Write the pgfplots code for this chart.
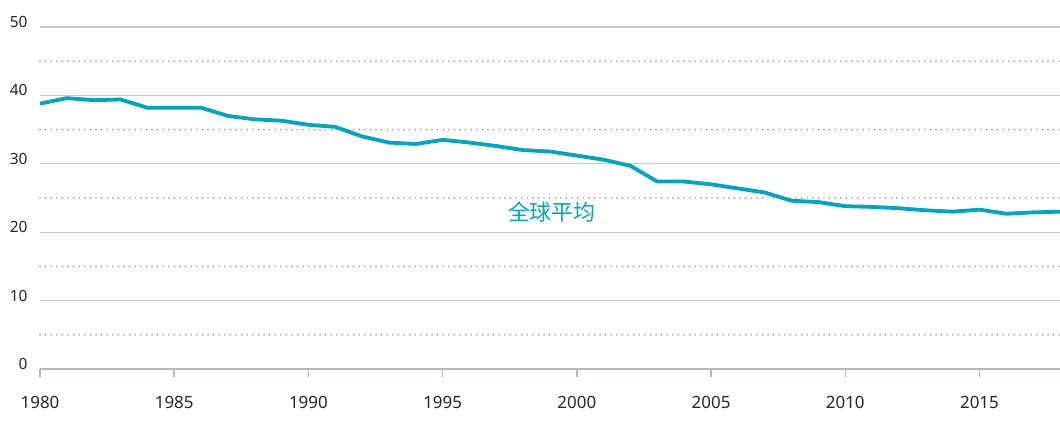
\documentclass[border=0pt]{standalone}
\usepackage{fontspec}
\setmainfont{Noto Sans}
\newfontfamily\cjk{Noto Sans CJK SC}
\usepackage{pgfplots}
\pgfplotsset{compat=1.18}
\usetikzlibrary{calc}
\definecolor{teal1}{HTML}{00A5BF}
\definecolor{grid1}{HTML}{CACACA}
\definecolor{axis1}{HTML}{BDB6B2}
\definecolor{dotc}{HTML}{A0A0A0}
\begin{document}
\begin{tikzpicture}
\begin{axis}[
  scale only axis, width=1020bp, height=342bp,
  xmin=1980, xmax=2018, ymin=0, ymax=50,
  axis x line*=bottom, axis y line*=left,
  y axis line style={draw=none},
  x axis line style={axis1, line width=1.5bp},
  xtick={1980,1985,...,2015},
  ytick={0,10,...,50},
  minor ytick={5,15,...,45},
  tick align=outside,
  xtick style={axis1, line width=1.5bp},
  major tick length=8bp,
  ytick style={draw=none},
  minor tick length=0pt,
  ymajorgrids, yminorgrids,
  major grid style={grid1, line width=1.2bp},
  minor grid style={dotc, line width=1.9bp, line cap=round, dash pattern=on 0pt off 5.6bp},
  /pgf/number format/assume math mode=true,
  /pgf/number format/1000 sep={},
  xticklabel style={font=\fontsize{17}{19}\selectfont, color=black!85, yshift=-16bp},
  yticklabel style={font=\fontsize{15.5}{17}\selectfont, color=black!85, anchor=east, xshift=-1bp, yshift=5bp},
]
\addplot[teal1, line width=3.8bp, line join=round] coordinates {
(1980,38.8) (1981,39.6) (1982,39.3) (1983,39.4) (1984,38.2) (1985,38.2)
(1986,38.2) (1987,37.0) (1988,36.5) (1989,36.3) (1990,35.7) (1991,35.4)
(1992,34.0) (1993,33.1) (1994,32.9) (1995,33.5) (1996,33.1) (1997,32.6)
(1998,32.0) (1999,31.8) (2000,31.2) (2001,30.6) (2002,29.7) (2003,27.4)
(2004,27.4) (2005,27.0) (2006,26.4) (2007,25.8) (2008,24.6) (2009,24.4)
(2010,23.8) (2011,23.7) (2012,23.5) (2013,23.2) (2014,23.0) (2015,23.3)
(2016,22.7) (2017,22.9) (2018,23.0)
};
\node[text=teal1, font=\cjk\fontsize{22}{24}\selectfont] at (axis cs:1999.07,22.95) {全球平均};
\end{axis}
\pgfresetboundingbox
\path ($(current axis.south west)+(-40bp,-56bp)$) rectangle ($(current axis.north east)+(0bp,27bp)$);
\end{tikzpicture}
\end{document}
